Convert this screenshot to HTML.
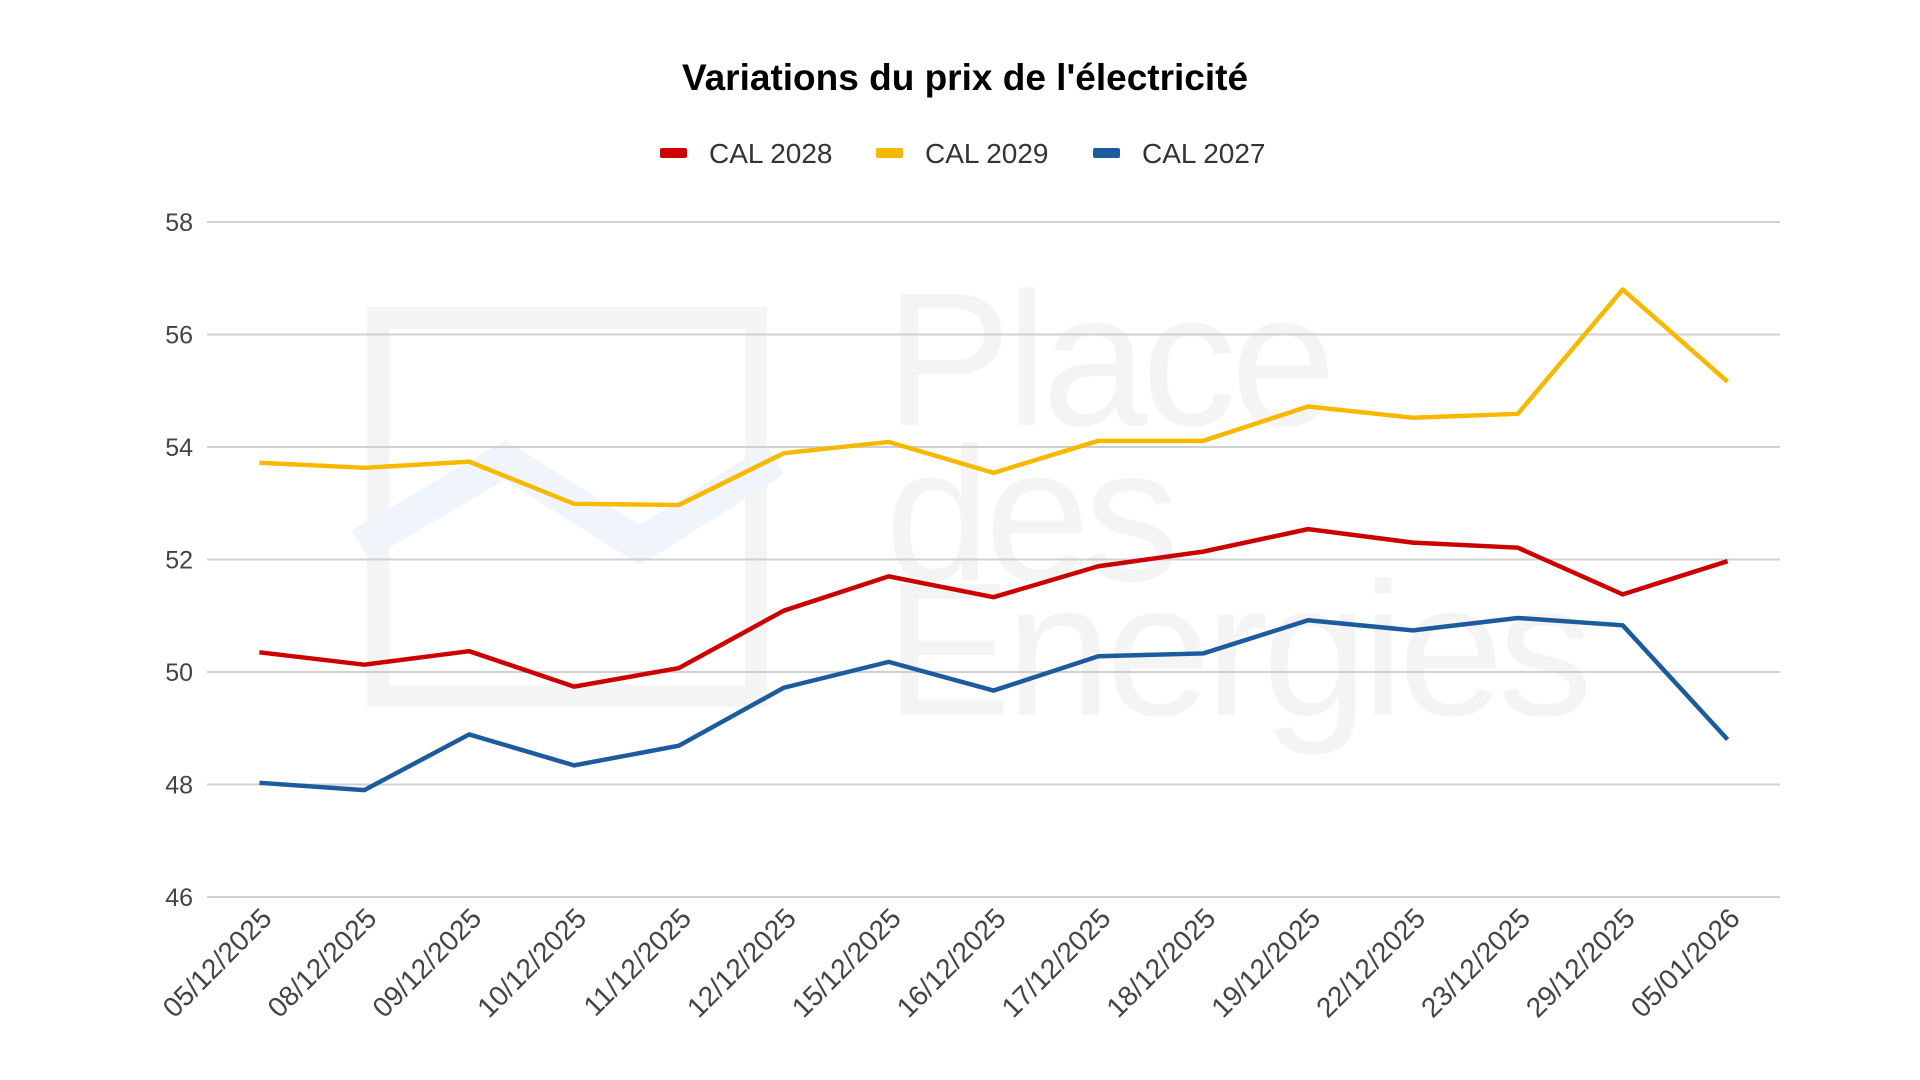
<!DOCTYPE html>
<html><head><meta charset="utf-8"><style>
body{margin:0;background:#fff;}
svg{display:block;font-family:"Liberation Sans",Arial,sans-serif;}
</style></head><body>
<svg id="chart" width="1920" height="1080" viewBox="0 0 1920 1080">
<g fill="none">
<rect x="378" y="318" width="378" height="378" stroke="#f4f4f4" stroke-width="22"/>
<polyline points="360,545 505,460 640,545 775,460" stroke="#f0f5fc" stroke-width="34"/>
<text x="885" y="425" font-size="190" fill="#f4f4f4" letter-spacing="-6">Place</text>
<text x="885" y="580" font-size="190" fill="#f4f4f4" letter-spacing="-6">des</text>
<text x="885" y="715" font-size="190" fill="#f4f4f4" letter-spacing="-6">Energies</text>
</g>
<text x="965" y="90" text-anchor="middle" font-size="37" font-weight="bold" fill="#000">Variations du prix de l'électricité</text>
<g id="legend"></g>
<g id="grid"></g><g id="series"></g><g id="xlabels"></g>
</svg>
<script>
const categories=["05/12/2025","08/12/2025","09/12/2025","10/12/2025","11/12/2025","12/12/2025","15/12/2025","16/12/2025","17/12/2025","18/12/2025","19/12/2025","22/12/2025","23/12/2025","29/12/2025","05/01/2026"];
const cal2028=[50.35,50.13,50.37,49.74,50.07,51.09,51.70,51.33,51.88,52.14,52.54,52.30,52.21,51.38,51.97];
const cal2029=[53.72,53.63,53.74,52.99,52.97,53.89,54.09,53.54,54.11,54.11,54.72,54.52,54.59,56.80,55.16];
const cal2027=[48.03,47.90,48.89,48.34,48.69,49.72,50.18,49.67,50.28,50.33,50.92,50.74,50.96,50.83,48.80];
const yTicks=[46,48,50,52,54,56,58];
const seriesNames=["CAL 2028","CAL 2029","CAL 2027"];

const NS="http://www.w3.org/2000/svg";
const L=207,R=1780,T=222,B=897,ymin=46,ymax=58;
const step=(R-L)/categories.length;
function xs(i){return L+step*(i+0.5);}
function ys(v){return B-(v-ymin)/(ymax-ymin)*(B-T);}
function mk(tag,attrs,parent){const e=document.createElementNS(NS,tag);for(const k in attrs)e.setAttribute(k,attrs[k]);parent.appendChild(e);return e;}
const grid=document.getElementById('grid');
yTicks.forEach(v=>{
  const l=mk('line',{x1:L,x2:R,y1:ys(v),y2:ys(v),stroke:'#d0d0d0','stroke-width':2},grid);
  
  
  const t=mk('text',{x:193,y:ys(v)+9,'text-anchor':'end','font-size':25,fill:'#444'},grid);
  t.textContent=v;
  
  
});
const xl=document.getElementById('xlabels');
categories.forEach((c,i)=>{
  const x=xs(i)+14,y=920;
  const t=mk('text',{x:x,y:y,'text-anchor':'end','font-size':28,fill:'#444',transform:`rotate(-45 ${x} ${y})`},xl);
  t.textContent=c;
  
  
});
const colors=["#cc0000","#f6b900","#1c5c9c"];
const data=[cal2028,cal2029,cal2027];
const sg=document.getElementById('series');
[1,0,2].forEach(k=>{
  const pts=data[k].map((v,i)=>xs(i)+','+ys(v)).join(' ');
  const p=mk('polyline',{points:pts,fill:'none',stroke:colors[k],'stroke-width':4.5,'stroke-linejoin':'round'},sg);
  
  
});
const lg=document.getElementById('legend');
const lx=[660,876,1093];
seriesNames.forEach((n,k)=>{
  const r=mk('rect',{x:lx[k],y:148,width:27,height:10,rx:2,fill:colors[k]},lg);
  
  
  const t=mk('text',{x:lx[k]+49,y:163,'font-size':28,fill:'#333'},lg);
  t.textContent=n;
  
  
});
</script>
</body></html>
